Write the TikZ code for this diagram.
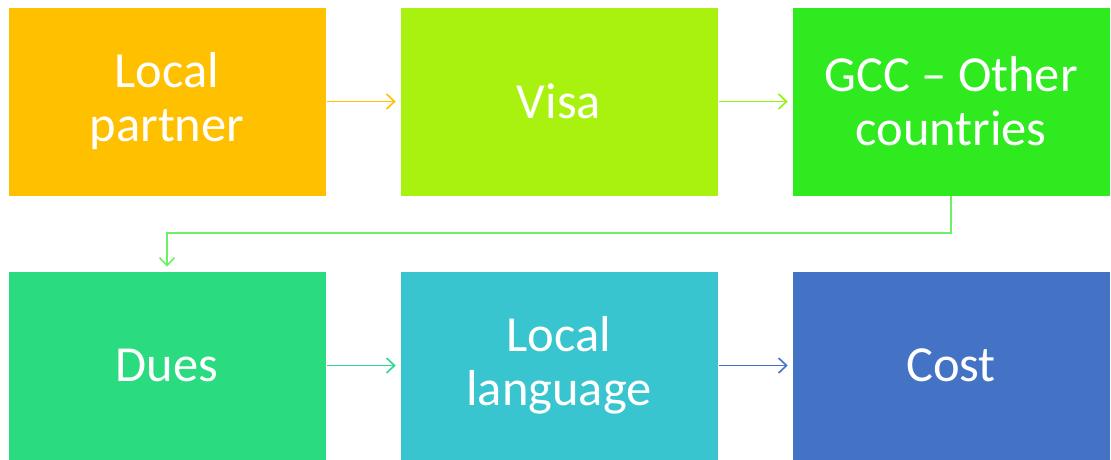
\documentclass[tikz,border=0pt]{standalone}
\usepackage{fontspec}
\setmainfont{Carlito}
\usetikzlibrary{arrows.meta}

\definecolor{cPartner}{HTML}{FFC000}
\definecolor{cVisa}{HTML}{A9F20F}
\definecolor{cGcc}{HTML}{2EEA1F}
\definecolor{cDues}{HTML}{2BDB80}
\definecolor{cLang}{HTML}{38C5D0}
\definecolor{cCost}{HTML}{4472C4}

\tikzset{
  stage/.style={fill=#1, draw=white, line width=0.6pt, minimum width=318pt,
    minimum height=189pt, inner sep=0pt, align=center, text=white,
    font=\fontsize{50.5}{54}\selectfont},
  link/.style={draw=#1, line width=1.8pt, -{Straight Barb[length=8pt,width=15pt,line width=1.6pt]},
    shorten <=1pt, shorten >=4pt}
}

\begin{document}
\begin{tikzpicture}[x=1pt,y=-1pt]
            \useasboundingbox (0,0) rectangle (1111,459);

            % Top row
            \node[stage=cPartner] (partner) at (167,101.5) {Local\\partner};
            \node[stage=cVisa] (visa) at (559,101.5) {Visa};
            \node[stage=cGcc] (gcc) at (951,101.5) {GCC -- Other\\countries};

            % Bottom row
            \node[stage=cDues] (dues) at (167,365.5) {Dues};
            \node[stage=cLang] (lang) at (559,365.5) {Local\\language};
            \node[stage=cCost] (cost) at (951,365.5) {Cost};

            % Arrows between stages
            \draw[link=cPartner] (partner) -- (visa);
            \draw[link=cVisa!85!green] (visa) -- (gcc);
            \draw[link=cGcc!70!white, shorten <=0pt] (gcc.south) -- ++(0,37) -| (dues.north);
            \draw[link=cDues!80!cLang] (dues) -- (lang);
            \draw[link=cCost] (lang) -- (cost);
        \end{tikzpicture}
\end{document}
